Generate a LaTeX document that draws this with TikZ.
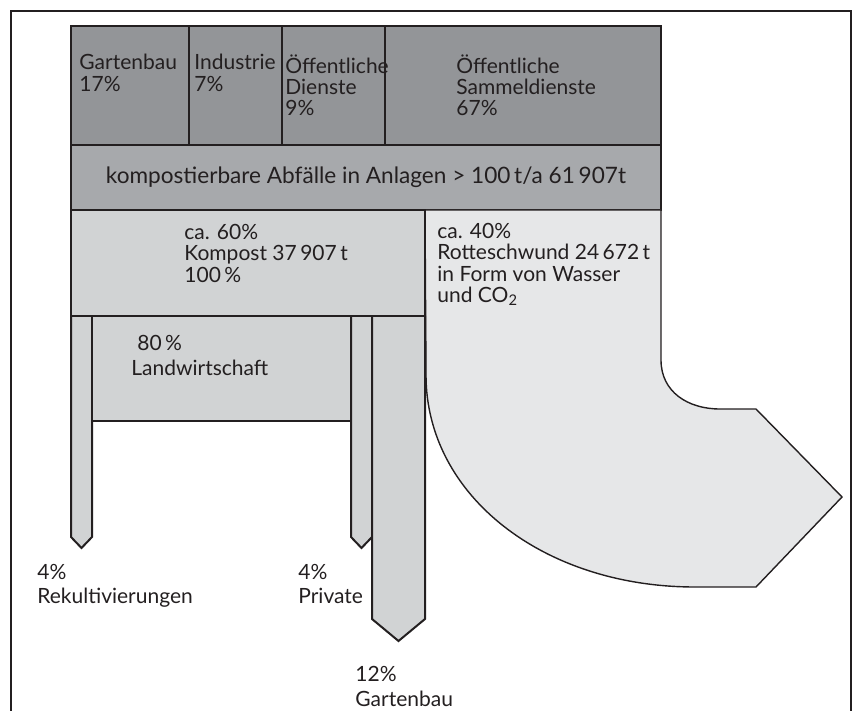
\documentclass[tikz,border=0pt]{standalone}
\usepackage{fontspec}
\setmainfont{Lato}
\usetikzlibrary{positioning}
\definecolor{linecol}{HTML}{231F20}
\definecolor{greyA}{HTML}{939598}
\definecolor{greyB}{HTML}{A7A9AC}
\definecolor{greyC}{HTML}{D1D3D4}
\definecolor{greyD}{HTML}{E6E7E8}
\tikzset{
  box/.style = {draw = linecol, line width = 1pt, line join = miter},
  lbl/.style = {anchor = north west, inner sep = 0pt, align = left, text = linecol,
                font = \fontsize{10.5}{10.6}\selectfont},
  outlbl/.style = {lbl, font = \fontsize{10.5}{12.2}\selectfont}
}
\begin{document}
\begin{tikzpicture}[x = 0.5pt, y = -0.5pt]
\useasboundingbox (0,0) rectangle (857,711);
% frame, open at the bottom
\draw [linecol, line width = 1pt] (11,711) -- (11,11) -- (851,11) -- (851,711);
% sources
\foreach \xa/\xb in {71/189,189/282,282/385,385/661}
  \draw [box, fill = greyA] (\xa,26) rectangle (\xb,145);
\draw [box, fill = greyB] (71,145) rectangle (661,210);
% Rotteschwund
\draw [fill = greyD, draw = linecol, line width = 0.7pt]
  (425,210) -- (661,210) -- (661,360) .. controls (661,392) and (688,409) .. (720,409)
  -- (756,409) -- (842,497) -- (756,587) -- (695,587)
  .. controls (544,587) and (426,496) .. (426,375) -- cycle;
\draw [box, fill = greyC] (71,210) rectangle (425,316);
% outputs
\draw [box, fill = greyC] (71,316) -- (71,537) -- (81.5,548) -- (92,537) -- (92,316);
\draw [box, fill = greyC] (92,316) rectangle (351,421);
\draw [box, fill = greyC] (351,316) -- (351,537) -- (361.5,548) -- (372,537) -- (372,316);
\draw [box, fill = greyC] (372,316) -- (372,619) -- (398.5,641) -- (425,619) -- (425,316);
\draw [box] (71,316) -- (425,316);
% texts
\node [lbl] (gartenbau) at (79,54) {Gartenbau\\17\%};
\node [lbl] (industrie) at (194,54) {Industrie\\7\%};
\node [lbl] (dienste) at (285,54) {Öffentliche\\Dienste\\9\%};
\node [lbl] (sammel) at (456,54) {Öffentliche\\Sammeldienste\\67\%};
\node [lbl, anchor = center, font = \fontsize{11.3}{12}\selectfont] (abfall) at (366,177)
  {kompostierbare Abfälle in Anlagen > 100\,t/a 61\,907t};
\node [lbl] (kompost) at (184,224) {ca. 60\%\\Kompost 37\,907\,t\\100\,\%};
\node [lbl] (rotte) at (437,223) {ca. 40\%\\Rotteschwund 24\,672\,t\\in Form von Wasser\\und CO\textsubscript{2}};
\node [outlbl] (land) at (131,335) {\hspace*{3pt}80\,\%\\Landwirtschaft};
\node [outlbl] (rekult) at (37,564) {4\%\\Rekultivierungen};
\node [outlbl] (privat) at (298,564) {4\%\\Private};
\node [outlbl] (garten) at (355,666) {12\%\\Gartenbau};
\end{tikzpicture}
\end{document}
